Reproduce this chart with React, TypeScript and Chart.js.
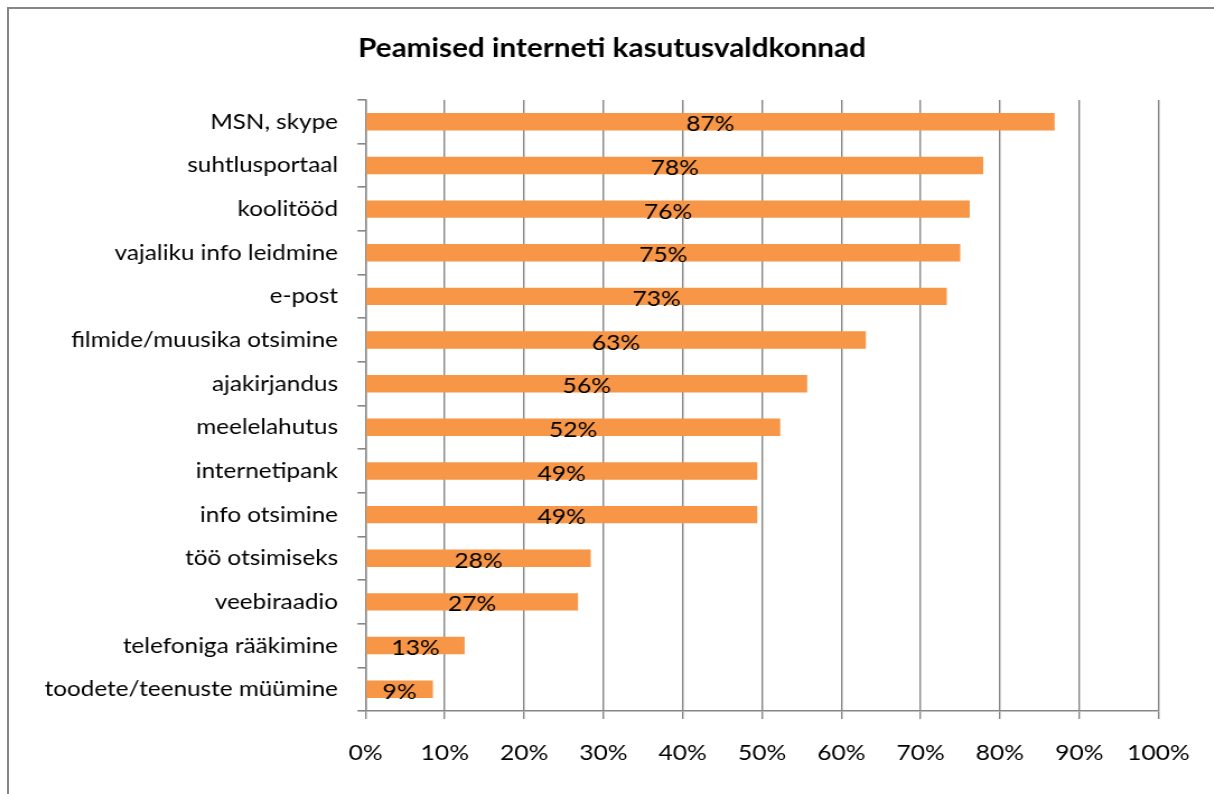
import React, { useEffect, useRef } from "react";
import { Chart, registerables } from "chart.js";

Chart.register(...registerables);

const TITLE = "Peamised interneti kasutusvaldkonnad";
const categories = [
  "MSN, skype",
  "suhtlusportaal",
  "koolitööd",
  "vajaliku info leidmine",
  "e-post",
  "filmide/muusika otsimine",
  "ajakirjandus",
  "meelelahutus",
  "internetipank",
  "info otsimine",
  "töö otsimiseks",
  "veebiraadio",
  "telefoniga rääkimine",
  "toodete/teenuste müümine",
];
const values = [86.9, 77.9, 76.2, 75.0, 73.3, 63.1, 55.7, 52.3, 49.4, 49.4, 28.4, 26.8, 12.5, 8.5];
const xTicks = [0, 10, 20, 30, 40, 50, 60, 70, 80, 90, 100];

const FONT = "Lato, 'Open Sans', sans-serif";
const GRID = "#868686";
const BAR = "#F79646";

// page geometry (content box of the framed area)
const W = 1206;
const H = 786;
// horizontal stretch applied to the canvas (reference text is wide)
const S0 = 1.12;
const WC = Math.round(W / S0);
const S = W / WC;
const OX = 9; // page x of canvas left

const PLOT_L = (365.5 - OX) / S;
const PLOT_R = (1158.5 - OX) / S;
const TICK_Y = 8 / S;
const LABEL_R = (338 - OX) / S;

const dataLabels = {
  id: "dataLabels",
  afterDatasetsDraw(chart: any) {
    const ctx = chart.ctx;
    const meta = chart.getDatasetMeta(0);
    ctx.save();
    ctx.font = `22px ${FONT}`;
    ctx.fillStyle = "#000";
    ctx.textAlign = "center";
    ctx.textBaseline = "middle";
    meta.data.forEach((bar: any, i: number) => {
      const v = chart.data.datasets[0].data[i];
      const cx = (bar.x + bar.base) / 2;
      ctx.fillText(Math.round(v) + "%", cx, bar.y + 2.5);
    });
    ctx.restore();
  },
};

export default function App() {
  const ref = useRef<HTMLCanvasElement | null>(null);
  useEffect(() => {
    document.documentElement.style.overflow = "hidden";
    const canvas = ref.current!;
    const chart = new Chart(canvas, {
      type: "bar",
      data: {
        labels: categories,
        datasets: [
          {
            data: values,
            backgroundColor: BAR,
            borderWidth: 0,
            barPercentage: 0.4,
            categoryPercentage: 1,
          },
        ],
      },
      plugins: [dataLabels],
      options: {
        indexAxis: "y",
        animation: false,
        responsive: false,
        maintainAspectRatio: false,
        devicePixelRatio: 1,
        layout: { padding: 0 },
        plugins: {
          legend: { display: false },
          tooltip: { enabled: false },
          title: {
            display: true,
            text: TITLE,
            color: "#000",
            font: { family: FONT, size: 26.5, weight: "bold", lineHeight: 1.2 },
            padding: { top: 23.1, bottom: 91 - 23.1 - 31.8 },
          },
        },
        scales: {
          x: {
            min: 0,
            max: 100,
            afterBuildTicks(scale: any) {
              scale.ticks = xTicks.map((v) => ({ value: v }));
            },
            afterFit(scale: any) {
              scale.height = H - (711 - 9);
            },
            ticks: {
              color: "#000",
              font: { family: FONT, size: 22 },
              padding: 20.5,
              maxRotation: 0,
              callback: (v: any) => v + "%",
            },
            grid: { color: GRID, lineWidth: 1.4, tickLength: 8, drawOnChartArea: true },
            border: { color: GRID, width: 1.6 },
          },
          y: {
            afterFit(scale: any) {
              scale.width = PLOT_L;
            },
            ticks: {
              color: "#000",
              font: { family: FONT, size: 21.7 },
              padding: PLOT_L - LABEL_R - TICK_Y,
              autoSkip: false,
            },
            grid: { color: GRID, lineWidth: 1.6, tickLength: TICK_Y, drawOnChartArea: false, offset: true },
            border: { color: GRID, width: 1.4 },
          },
          spacer: {
            type: "linear",
            position: "right",
            display: true,
            afterFit(scale: any) {
              scale.width = WC - PLOT_R;
            },
            ticks: { display: false },
            grid: { display: false },
            border: { display: false },
          },
        },
      },
    } as any);
    return () => chart.destroy();
  }, []);
  return (
    <div
      style={{
        position: "absolute",
        left: 7,
        top: 7,
        width: W,
        height: H,
        border: "2px solid #868686",
        background: "#fff",
        overflow: "hidden",
      }}
    >
      <div style={{ width: WC, height: H, transform: `scaleX(${S})`, transformOrigin: "0 0" }}>
        <canvas ref={ref} width={WC} height={H} style={{ width: WC, height: H, display: "block" }} />
      </div>
    </div>
  );
}
